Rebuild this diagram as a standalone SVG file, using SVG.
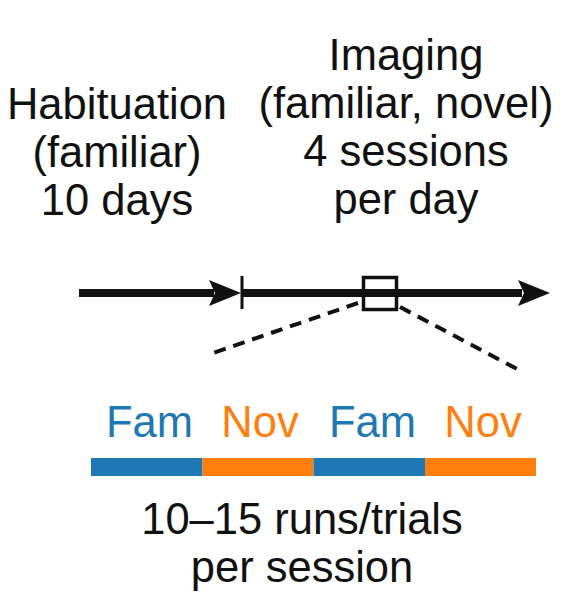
<svg xmlns="http://www.w3.org/2000/svg" width="564" height="606" viewBox="0 0 564 606">
<style>
text{font-family:"Liberation Sans",Arial,sans-serif;font-size:43.5px;text-anchor:middle;fill:#111}
.fam{fill:#1f77b4}
.nov{fill:#ff7f0e}
.dash{stroke:#111;stroke-width:4;stroke-dasharray:12 8;fill:none}
</style>
<rect width="564" height="606" fill="#fff"/>
<g id="habituation-label">
<text x="117" y="119">Habituation</text>
<text x="117" y="167">(familiar)</text>
<text x="117" y="215">10 days</text>
</g>
<g id="imaging-label">
<text x="406" y="70">Imaging</text>
<text x="406" y="118">(familiar, novel)</text>
<text x="406" y="166">4 sessions</text>
<text x="406" y="214">per day</text>
</g>
<g id="connectors">
<line x1="79" y1="293" x2="214" y2="293" stroke="#111" stroke-width="8"/>
<polygon points="209,280 241,293 209,306 215,293" fill="#111"/>
<line x1="242" y1="293" x2="522" y2="293" stroke="#111" stroke-width="8"/>
<line x1="242" y1="276" x2="242" y2="309" stroke="#111" stroke-width="3"/>
<polygon points="518,280 550,293 518,306 524,293" fill="#111"/>
<line class="dash" x1="358" y1="303" x2="213" y2="353"/>
<line class="dash" x1="400" y1="307" x2="517" y2="369"/>
</g>
<g id="zoom-box">
<rect x="363.5" y="277.5" width="33" height="32" fill="none" stroke="#111" stroke-width="3.5"/>
</g>
<g id="session-labels">
<text class="fam" x="149.5" y="437">Fam</text>
<text class="nov" x="260" y="437">Nov</text>
<text class="fam" x="372.5" y="437">Fam</text>
<text class="nov" x="483" y="437">Nov</text>
</g>
<g id="session-bar">
<rect x="91" y="458" width="111.5" height="18" fill="#1f77b4"/>
<rect x="202.5" y="458" width="111" height="18" fill="#ff7f0e"/>
<rect x="313.5" y="458" width="111.5" height="18" fill="#1f77b4"/>
<rect x="425" y="458" width="111" height="18" fill="#ff7f0e"/>
</g>
<g id="runs-label">
<text x="302" y="534">10–15 runs/trials</text>
<text x="302" y="582">per session</text>
</g>
</svg>
